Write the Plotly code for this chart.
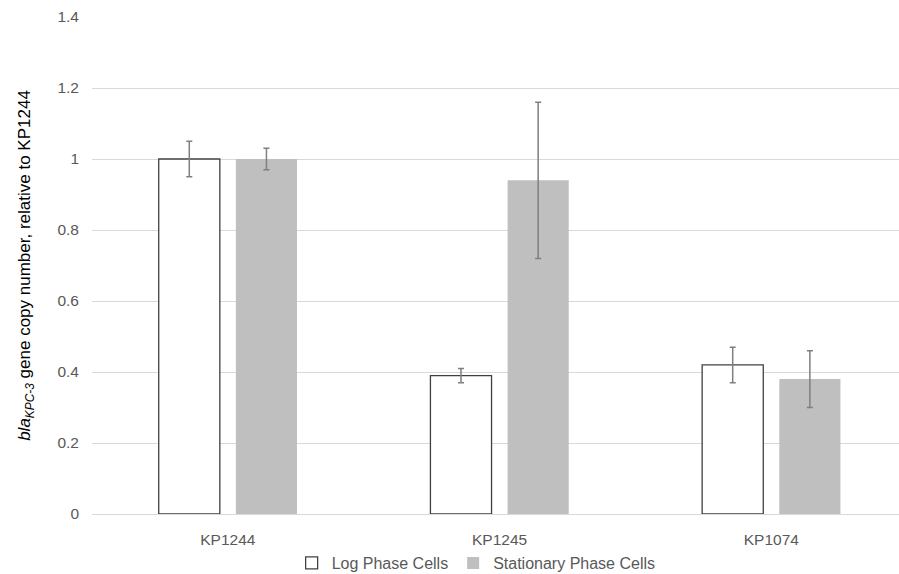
import plotly.graph_objects as go

categories = ["KP1244", "KP1245", "KP1074"]
log_values = [1.00, 0.39, 0.42]
log_err = [0.05, 0.02, 0.05]
stat_values = [1.00, 0.94, 0.38]
stat_err = [0.03, 0.22, 0.08]
y_ticks = [0, 0.2, 0.4, 0.6, 0.8, 1, 1.2, 1.4]
y_tick_labels = ["0", "0.2", "0.4", "0.6", "0.8", "1", "1.2", "1.4"]

font_family = "Liberation Sans, Arial, sans-serif"

fig = go.Figure()
fig.add_trace(go.Bar(
    name="Log Phase Cells", x=categories, y=log_values,
    marker=dict(color="white", line=dict(color="#404040", width=1.3)),
    error_y=dict(type="data", array=log_err, visible=True,
                 color="#7f7f7f", thickness=1.5, width=3),
))
fig.add_trace(go.Bar(
    name="Stationary Phase Cells", x=categories, y=stat_values,
    marker=dict(color="#bfbfbf", line=dict(width=0)),
    error_y=dict(type="data", array=stat_err, visible=True,
                 color="#7f7f7f", thickness=1.5, width=3),
))

fig.update_layout(
    width=899, height=574,
    margin=dict(l=92, r=0, t=17, b=60, autoexpand=False),
    paper_bgcolor="white", plot_bgcolor="white",
    barmode="group", bargap=0.432, bargroupgap=0.208,
    font=dict(family=font_family, size=15.5, color="#595959"),
    showlegend=True,
    legend=dict(orientation="h", x=0.476, xanchor="center", y=-0.0986,
                yanchor="middle", font=dict(size=16, color="#595959"),
                itemwidth=30, traceorder="normal"),
    xaxis=dict(type="category", range=[-0.5, 2.47], showgrid=False,
               showline=False, zeroline=False, ticks="",
               ticklabelstandoff=14,
               tickfont=dict(size=15.5, color="#595959")),
    yaxis=dict(range=[0, 1.4], tickvals=y_ticks, ticktext=y_tick_labels,
               showgrid=True, gridcolor="#d9d9d9", gridwidth=1,
               zeroline=True, zerolinecolor="#d9d9d9", zerolinewidth=1,
               showline=False, ticks="", ticklabelstandoff=12,
               tickfont=dict(size=15.5, color="#595959"),
               title=dict(text="<i>bla<sub>KPC-3</sub></i> gene copy number, relative to KP1244",
                          font=dict(size=17, color="#000000"), standoff=22)),
)

fig.write_html(
    "out.html",
    config={"displayModeBar": False},
    post_script="document.body.style.margin='0';document.body.style.overflow='hidden';",
)
